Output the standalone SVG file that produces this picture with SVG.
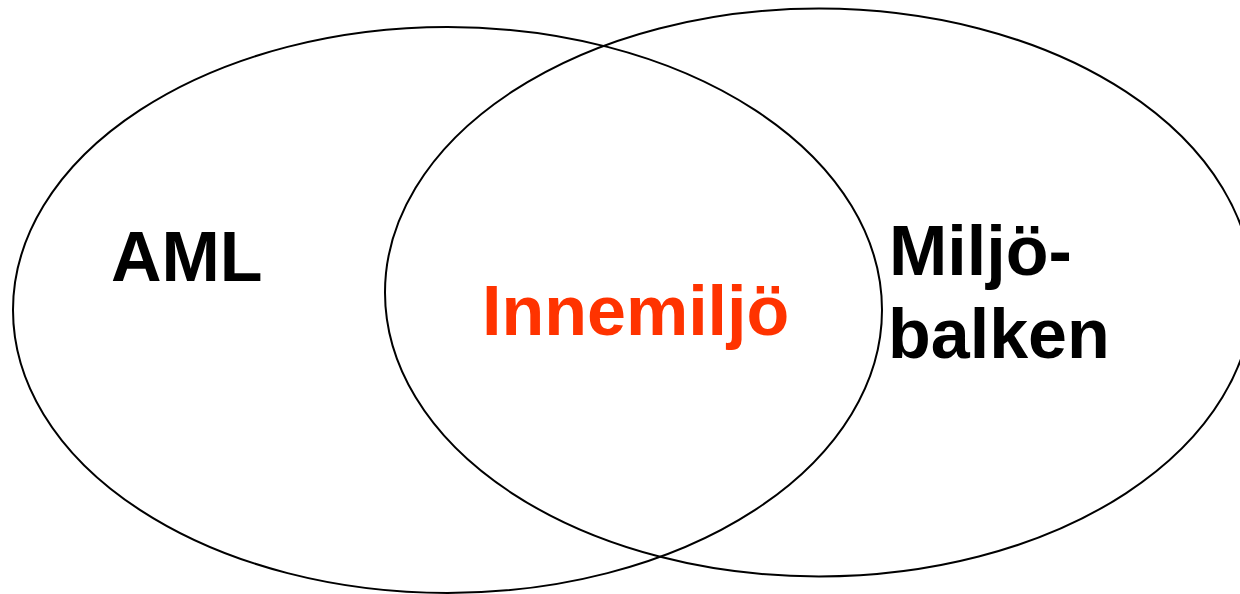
<svg xmlns="http://www.w3.org/2000/svg" width="1240" height="594" viewBox="0 0 1240 594">
<style>
.ring{fill:none;stroke:#000;stroke-width:2}
.lbl{font-family:"Liberation Sans",Arial,sans-serif;font-weight:bold;font-size:70px;fill:#000}
.red{fill:#ff3300}
</style>
<rect width="1240" height="594" fill="#fff"/>
<g id="aml">
<ellipse class="ring" cx="447.5" cy="310" rx="434.5" ry="283"/>
<text class="lbl" x="111" y="281">AML</text>
</g>
<g id="miljobalken">
<ellipse class="ring" cx="819" cy="292.5" rx="434" ry="284"/>
<text class="lbl" x="889" y="275">Miljö-</text>
<text class="lbl" x="888" y="358">balken</text>
</g>
<g id="innemiljo">
<text class="lbl red" x="482" y="335">Innemiljö</text>
</g>
<g id="connectors"/>
</svg>
